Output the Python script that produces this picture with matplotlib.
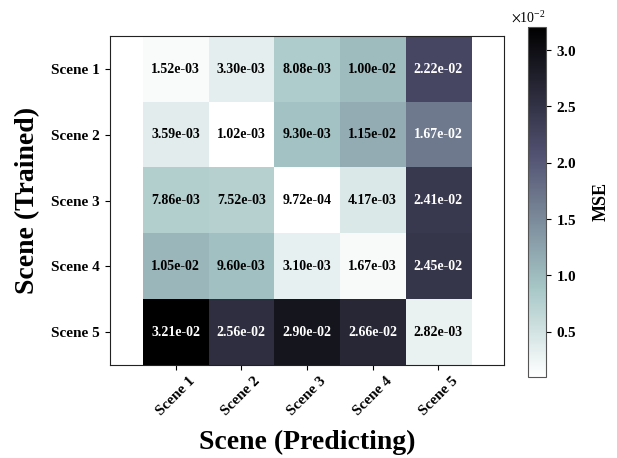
import numpy as np
import matplotlib
matplotlib.use("Agg")
import matplotlib.pyplot as plt
from matplotlib.ticker import ScalarFormatter

plt.rcParams['font.family'] = ['Liberation Serif', 'DejaVu Serif']
plt.rcParams['mathtext.fontset'] = 'stix'

trained = ["Scene 1", "Scene 2", "Scene 3", "Scene 4", "Scene 5"]
predicting = ["Scene 1", "Scene 2", "Scene 3", "Scene 4", "Scene 5"]
row1 = [1.52e-03, 3.30e-03, 8.08e-03, 1.00e-02, 2.22e-02]
row2 = [3.59e-03, 1.02e-03, 9.30e-03, 1.15e-02, 1.67e-02]
row3 = [7.86e-03, 7.52e-03, 9.72e-04, 4.17e-03, 2.41e-02]
row4 = [1.05e-02, 9.60e-03, 3.10e-03, 1.67e-03, 2.45e-02]
row5 = [3.21e-02, 2.56e-02, 2.90e-02, 2.66e-02, 2.82e-03]
mse = np.array([row1, row2, row3, row4, row5])

fig = plt.figure(figsize=(6.17, 4.58), dpi=100)
ax = fig.add_axes([0.178, 0.203, 0.639, 0.718])
cax = fig.add_axes([0.856, 0.177, 0.029, 0.765])

im = ax.imshow(mse, cmap='bone_r', aspect='auto',
               vmin=mse.min(), vmax=mse.max())
ax.set_xlim(-1, 5)
ax.set_ylim(4.5, -0.5)
ax.set_xticks(range(len(predicting)))
ax.set_xticklabels(predicting, rotation=45, fontsize=11, fontweight='bold')
ax.set_yticks(range(len(trained)))
ax.set_yticklabels(trained, fontsize=11, fontweight='bold')
ax.set_xlabel("Scene (Predicting)", fontsize=20, fontweight='bold', labelpad=8)
ax.set_ylabel("Scene (Trained)", fontsize=20, fontweight='bold', labelpad=8)
for s in ax.spines.values():
    s.set_color('#222222')

thr = mse.max() / 2
for i in range(mse.shape[0]):
    for j in range(mse.shape[1]):
        v = mse[i, j]
        ax.text(j, i, f"{v:.2e}", ha='center', va='center', fontsize=10,
                fontweight='bold', color='white' if v > thr else 'black')

cb = fig.colorbar(im, cax=cax)
fmt = ScalarFormatter(useMathText=True)
fmt.set_powerlimits((-2, 2))
cb.formatter = fmt
cb.set_ticks([0.005, 0.010, 0.015, 0.020, 0.025, 0.030])
cb.update_ticks()
cb.outline.set_edgecolor('#555555')
for t in cax.get_yticklabels():
    t.set_fontweight('bold')
    t.set_fontsize(11)
cax.yaxis.get_offset_text().set_fontsize(10)
cb.set_label("MSE", fontsize=13, fontweight='bold', labelpad=12)

fig.savefig("out.png", dpi=100)
